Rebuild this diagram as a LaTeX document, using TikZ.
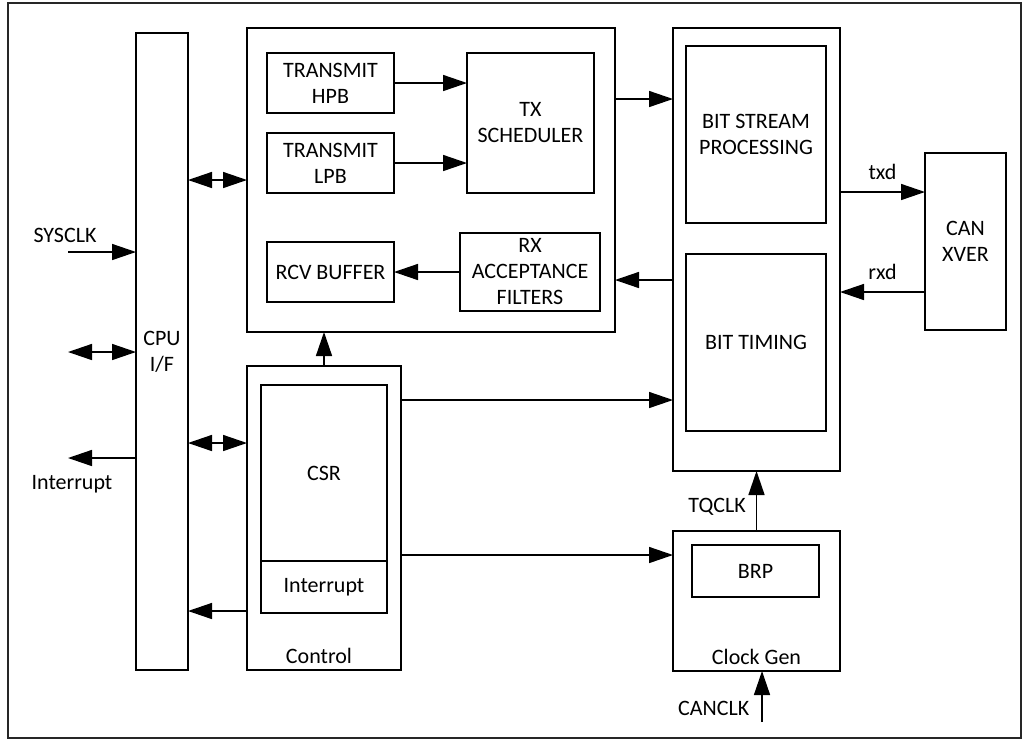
\documentclass[tikz,border=0pt]{standalone}
\usepackage{fontspec}
\setmainfont{Carlito}
\usetikzlibrary{arrows.meta, positioning}
\tikzset{
  box/.style={draw=black, line width=1.5pt, inner sep=0pt, outer sep=0pt,
              align=center, font=\fontsize{22}{26}\selectfont},
  lbl/.style={inner sep=2pt, font=\fontsize{22}{26}\selectfont},
  arr/.style={-{Triangle[length=24pt, width=16pt]}, line width=1.5pt},
  darr/.style={{Triangle[length=24pt, width=16pt]}-{Triangle[length=24pt, width=16pt]},
               line width=1.5pt},
}

\begin{document}
\begin{tikzpicture}[x=1pt, y=-1pt]
  \useasboundingbox (0,0) rectangle (1022,740);

  %% Frame
  \draw[line width=1.2pt, black!85] (8,3) rectangle (1021,738);

  %% CPU interface
  \node[box, minimum width=52pt, minimum height=637pt] (cpu) at (162,351.5) {CPU\\I/F};

  %% Message buffers
  \node[box, minimum width=368pt, minimum height=304pt] (txblk) at (431,180) {};
  \node[box, minimum width=127pt, minimum height=60pt] (hpb) at (330.5,83) {TRANSMIT\\HPB};
  \node[box, minimum width=127pt, minimum height=60pt, below=20pt of hpb] (lpb) {TRANSMIT\\LPB};
  \node[box, minimum width=127pt, minimum height=140pt] (txs) at (530.5,123) {TX\\SCHEDULER};
  \node[box, minimum width=127pt, minimum height=60pt] (rcv) at (330.5,272) {RCV BUFFER};
  \node[box, minimum width=140pt, minimum height=78pt] (rxf) at (530,272) {RX\\ACCEPTANCE\\FILTERS};

  %% Protocol engine
  \node[box, minimum width=167pt, minimum height=443pt] (bsblk) at (756.5,249.5) {};
  \node[box, minimum width=140pt, minimum height=177pt] (bsp) at (756,134.5) {BIT STREAM\\PROCESSING};
  \node[box, minimum width=140pt, minimum height=177pt] (btm) at (756,342.5) {BIT TIMING};
  \node[box, minimum width=81pt, minimum height=177pt] (can) at (965.5,241.5) {CAN\\XVER};

  %% Control
  \node[box, minimum width=154pt, minimum height=304pt] (ctrl) at (324,518) {};
  \node[box, minimum width=126pt, minimum height=176pt] (csr) at (324,473) {CSR};
  \node[box, minimum width=126pt, minimum height=52pt, below=0pt of csr] (intr) {Interrupt};
  \node[lbl, above=4pt of ctrl.south, xshift=-5pt] (ctrlname) {Control};

  %% Clock generator
  \node[box, minimum width=167pt, minimum height=140pt] (clk) at (756.5,601) {};
  \node[box, minimum width=127pt, minimum height=52pt] (brp) at (755.5,571) {BRP};
  \node[lbl, above=4pt of clk.south] (clkname) {Clock Gen};

  %% Internal connections
  \draw[arr] (hpb.east) -- (hpb.east -| txs.west);
  \draw[arr] (lpb.east) -- (lpb.east -| txs.west);
  \draw[arr] ([yshift=-71pt]txblk.north east) -- ([yshift=-71pt]txblk.north east -| bsblk.west);
  \draw[arr] ([yshift=-30.5pt]bsblk.west) -- ([yshift=-30.5pt]bsblk.west -| txblk.east);
  \draw[arr] (rxf.west) -- (rxf.west -| rcv.east);
  \draw[arr] ([yshift=49.5pt]can.west -| bsblk.east) -- node[lbl, above=10pt] (txdlbl) {txd} ([yshift=49.5pt]can.west);
  \draw[arr] ([yshift=-50.5pt]can.west) -- node[lbl, above=10pt] (rxdlbl) {rxd} ([yshift=-50.5pt]can.west -| bsblk.east);
  \draw[darr] (txblk.west -| cpu.east) -- (txblk.west);
  \draw[darr] ([yshift=75pt]ctrl.west -| cpu.east) -- ([yshift=75pt]ctrl.west);
  \draw[arr] ([yshift=-93pt]ctrl.west) -- ([yshift=-93pt]ctrl.west -| cpu.east);
  \draw[arr] (ctrl.north) -- (ctrl.north |- txblk.south);
  \draw[arr] ([yshift=118pt]ctrl.east) -- ([yshift=118pt]ctrl.east -| bsblk.west);
  \draw[arr] ([yshift=-37pt]ctrl.east) -- ([yshift=-37pt]ctrl.east -| clk.west);
  \draw[arr] (clk.north) -- node[lbl, pos=0.4, left=8pt] (tqlbl) {TQCLK} (clk.north |- bsblk.south);

  %% External pins
  \coordinate (sysin) at (68,252);
  \coordinate (busin) at (68,352);
  \coordinate (intout) at (68,458);
  \coordinate (canin) at (762,722);
  \draw[arr] (sysin) node[lbl, above=7pt, xshift=-3pt] (syslbl) {SYSCLK} -- (sysin -| cpu.west);
  \draw[darr] (busin) -- (busin -| cpu.west);
  \draw[arr] (intout -| cpu.west) -- (intout) node[lbl, below=15pt, xshift=4pt] (intlbl) {Interrupt};
  \draw[arr] (canin) -- node[lbl, pos=0.27, left=10pt] (canlbl) {CANCLK} (canin |- clk.south);

\end{tikzpicture}
\end{document}
